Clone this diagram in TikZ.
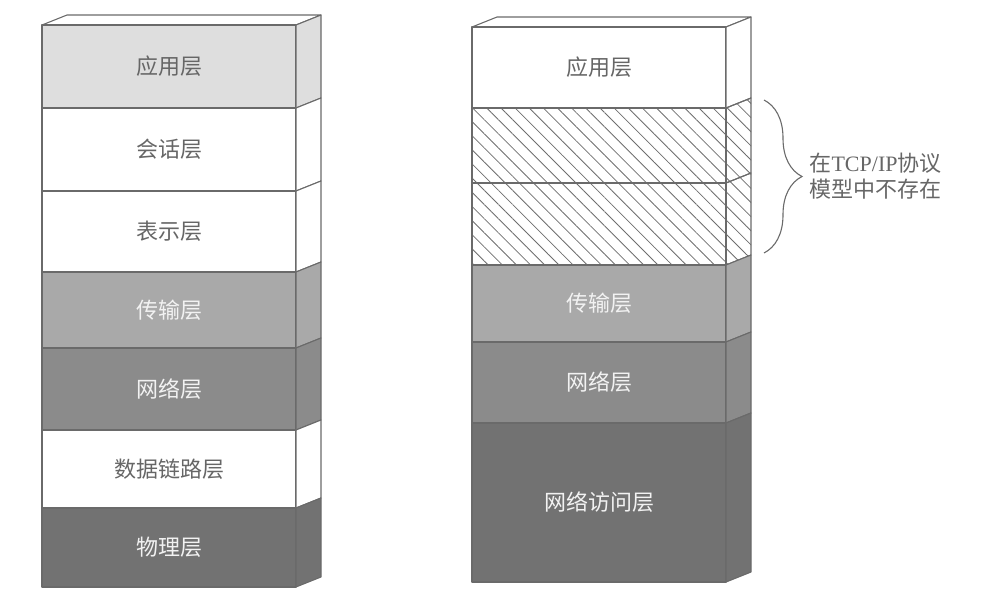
\documentclass[tikz,border=0pt]{standalone}
\usepackage{fontspec}
\newfontfamily\cjk{Noto Sans CJK SC}
\newfontfamily\latinserif{Liberation Serif}
\usetikzlibrary{patterns.meta,decorations.pathreplacing}
\definecolor{edgegray}{HTML}{6A6A6A}
\definecolor{hatchgray}{HTML}{6E6E6E}
\definecolor{labelgray}{HTML}{666666}
\definecolor{labelwhite}{HTML}{F2F2F2}
\definecolor{shadeA}{HTML}{DEDEDE}
\definecolor{shadeB}{HTML}{A9A9A9}
\definecolor{shadeC}{HTML}{8B8B8B}
\definecolor{shadeD}{HTML}{727272}
\tikzset{
  layer/.style={draw=edgegray, line width=1.1pt, line join=round},
  lyrwhite/.style={fill=white},
  lyrlight/.style={fill=shadeA},
  lyrmid/.style={fill=shadeB},
  lyrdark/.style={fill=shadeC},
  lyrdeep/.style={fill=shadeD},
  lyrhatch/.style={pattern={Lines[angle=-45,distance=10pt,line width=0.8pt]}, pattern color=hatchgray},
  txtdark/.style={text=labelgray, font=\cjk\fontsize{22pt}{26pt}\selectfont},
  txtlight/.style={text=labelwhite, font=\cjk\fontsize{22pt}{26pt}\selectfont},
}
\begin{document}
\begin{tikzpicture}[x=1pt,y=-1pt]
  \useasboundingbox (0,0) rectangle (1007,597);
  % Left stack: seven OSI layers, front face 42..296, side face 25 deep
  \draw[layer,fill=white] (42,25) -- ++(25,-10) -- (321,15) -- (296,25) -- cycle;
  \foreach \t/\b/\sty/\txt/\lab [count=\i] in {25/108/lyrlight/txtdark/应用层, 108/191/lyrwhite/txtdark/会话层,
      191/272/lyrwhite/txtdark/表示层, 272/348/lyrmid/txtlight/传输层, 348/430/lyrdark/txtlight/网络层,
      430/508/lyrwhite/txtdark/数据链路层, 508/587/lyrdeep/txtlight/物理层}
  {
    \draw[layer,\sty] (42,\t) rectangle (296,\b);
    \draw[layer,\sty] (296,\t) -- ++(25,-10) -- (321,\b-10) -- (296,\b) -- cycle;
    \node[\txt] (osi\i) at (169,{(\t+\b)/2}) {\lab};
  }
  % Right stack: TCP/IP layers, same width, shifted right
  \begin{scope}[xshift=430pt]
    \draw[layer,fill=white] (42,27) -- ++(25,-10) -- (321,17) -- (296,27) -- cycle;
    \foreach \t/\b/\sty/\txt/\lab [count=\i] in {27/108/lyrwhite/txtdark/应用层, 108/183/lyrhatch/txtdark/,
        183/265/lyrhatch/txtdark/, 265/342/lyrmid/txtlight/传输层, 342/423/lyrdark/txtlight/网络层,
        423/582/lyrdeep/txtlight/网络访问层}
    {
      \draw[layer,\sty] (42,\t) rectangle (296,\b);
      \draw[layer,\sty] (296,\t) -- ++(25,-10) -- (321,\b-10) -- (296,\b) -- cycle;
      \node[\txt] (tcp\i) at (169,{(\t+\b)/2}) {\lab};
    }
  \end{scope}
  % Brace over the two missing layers
  \coordinate (brtop) at (764,100);
  \coordinate (brbot) at (764,253);
  \draw[edgegray, line width=1.1pt, decorate, decoration={brace,amplitude=38pt}] (brtop) -- (brbot);
  \node[txtdark, anchor=west, align=left] (note) at (806,176)
    {在{\latinserif TCP/IP}协议\\模型中不存在};
\end{tikzpicture}
\end{document}
